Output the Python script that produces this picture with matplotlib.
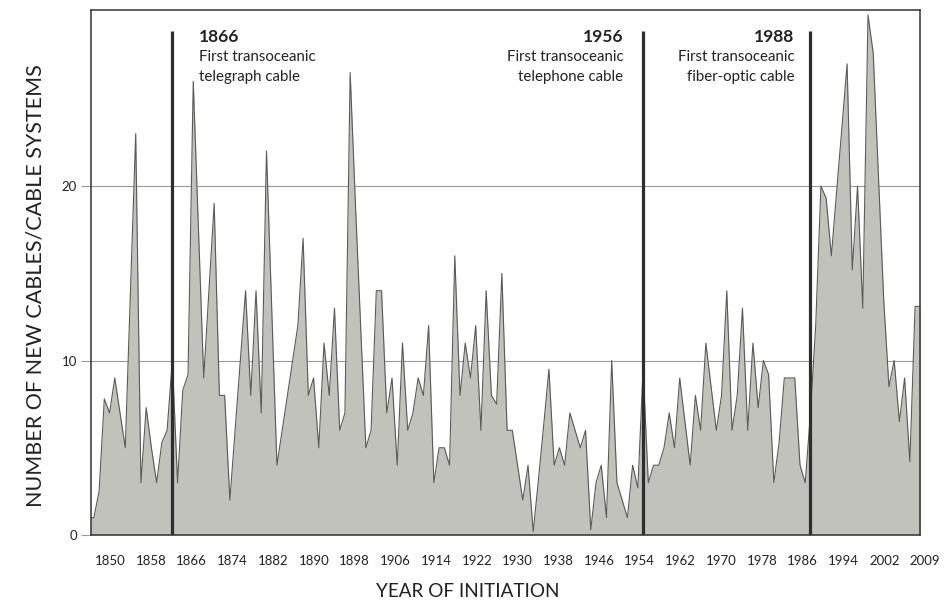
import numpy as np
import matplotlib
matplotlib.use("Agg")
import matplotlib.pyplot as plt
import matplotlib.transforms as mtransforms

plt.rcParams["font.family"] = ["Lato", "DejaVu Sans"]

# new cables / cable systems initiated per year
years = np.arange(1850, 2010)
counts = [
    1, 1, 2.5, 7.8, 7, 9, 7, 5, 14, 23,            # 1850s
    3, 7.3, 5, 3, 5.3, 6, 10, 3, 8.3, 9.2,         # 1860s
    26, 17.5, 9, 14, 19, 8, 8, 2, 6, 10,           # 1870s
    14, 8, 14, 7, 22, 13, 4, 6, 8, 10,             # 1880s
    12, 17, 8, 9, 5, 11, 8, 13, 6, 7,              # 1890s
    26.5, 19, 12, 5, 6, 14, 14, 7, 9, 4,           # 1900s
    11, 6, 7, 9, 8, 12, 3, 5, 5, 4,                # 1910s
    16, 8, 11, 9, 12, 6, 14, 8, 7.5, 15,           # 1920s
    6, 6, 4, 2, 4, 0.2, 3.2, 6.3, 9.5, 4,          # 1930s
    5, 4, 7, 6, 5, 6, 0.3, 3, 4, 1,                # 1940s
    10, 3, 2, 1, 4, 2.7, 9.5, 3, 4, 4,             # 1950s
    5, 7, 5, 9, 6.5, 4, 8, 6, 11, 8.5,             # 1960s
    6, 8, 14, 6, 8, 13, 6, 11, 7.3, 10,            # 1970s
    9.2, 3, 5.3, 9, 9, 9, 4, 3, 7, 12,             # 1980s
    20, 19.3, 16, 19.7, 23.3, 27, 15.2, 20, 13, 29.8,  # 1990s
    27.6, 20.5, 13.5, 8.5, 10, 6.5, 9, 4.2, 13.1, 13.1,  # 2000s
]

milestone_years = [1866, 1956, 1988]
milestone_titles = ["First transoceanic", "First transoceanic", "First transoceanic"]
milestone_subtitles = ["telegraph cable", "telephone cable", "fiber-optic cable"]

tick_labels = ["1850", "1858", "1866", "1874", "1882", "1890", "1898", "1906",
               "1914", "1922", "1930", "1938", "1946", "1954", "1962", "1970",
               "1978", "1986", "1994", "2002", "2009"]

fill_color = "#c1c2bb"
edge_color = "#5a5a56"
ink = "#222222"

fig = plt.figure(figsize=(9.53, 6.07), dpi=100)
ax = fig.add_axes([0.0952, 0.1186, 0.8705, 0.8653])

ax.fill_between(years, counts, 0, color=fill_color, lw=0, zorder=2)
ax.plot(years, counts, color=edge_color, lw=0.8, zorder=3)

ax.set_xlim(1850.4, 2009.0)
ax.set_ylim(0, 30.1)

# horizontal reference lines behind the area
for yv in (10, 20):
    ax.axhline(yv, color="#9a9a9a", lw=0.8, zorder=1)

ax.vlines(milestone_years, 0, 28.9, color="#2e2e2e", lw=2.3, zorder=4)

# annotations
trans = mtransforms.blended_transform_factory(ax.transData, ax.transAxes)
ann_x = [1871.1, 1952.2, 1984.9]
ann_ha = ["left", "right", "right"]
for yr, t1, t2, x, ha in zip(milestone_years, milestone_titles, milestone_subtitles, ann_x, ann_ha):
    ax.text(x, 0.964, str(yr), transform=trans, ha=ha, va="top",
            fontsize=12.5, fontweight="bold", color=ink)
    ax.text(x, 0.924, t1, transform=trans, ha=ha, va="top", fontsize=10.8, color=ink)
    ax.text(x, 0.885, t2, transform=trans, ha=ha, va="top", fontsize=10.8, color=ink)

# y axis
ax.set_yticks([0, 10, 20])
ax.set_yticklabels(["0", "10", "20"], fontsize=9.5, color=ink)
ax.tick_params(axis="y", length=7, width=0.8, color="#9a9a9a", pad=3)
ax.set_ylabel("NUMBER OF NEW CABLES/CABLE SYSTEMS", fontsize=15.5, color=ink)
ax.yaxis.set_label_coords(-0.054, 0.474)

# x labels: evenly spaced text under the axis
ax.set_xticks([])
label_pos = np.linspace(0.0233, 1.0057, len(tick_labels))
for lbl, xp in zip(tick_labels, label_pos):
    ax.text(xp, -0.05, lbl, transform=ax.transAxes, ha="center", va="center",
            fontsize=9.5, color=ink, clip_on=False)
ax.text(0.455, -0.108, "YEAR OF INITIATION", transform=ax.transAxes, ha="center",
        va="center", fontsize=13.6, color=ink)

for sp in ax.spines.values():
    sp.set_color("#333333")
    sp.set_linewidth(1.1)
    sp.set_zorder(5)

fig.savefig("out.png", dpi=100)
